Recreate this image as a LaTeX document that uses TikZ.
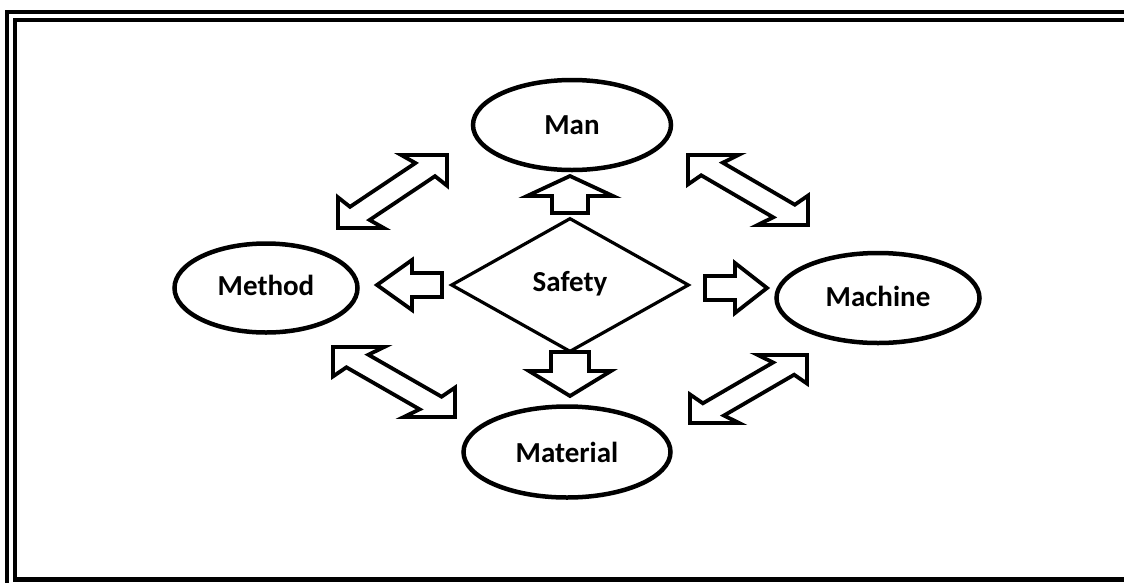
\documentclass[tikz,border=0pt]{standalone}
\usepackage{fontspec}
\setmainfont{Carlito}
\usetikzlibrary{shapes.geometric}
\newcommand\blockarr[7]{% tip x, tip y, angle, head length, total length, head half width, shaft half width
  \draw[blk,shift={(#1,#2)},rotate=#3] (0,0)--(-#4,#6)--(-#4,#7)--(-#5,#7)--(-#5,-#7)--(-#4,-#7)--(-#4,-#6)--cycle;}
\newcommand\dblarrow[4]{% origin corner x, y, xscale, yscale
  \begin{scope}[shift={(#1,#2)},xscale=#3,yscale=#4]
    \draw[blk] (1,1)--(0.58,1)--(0.71,0.89)--(0.11,0.29)--(0,0.42)--(0,0)--(0.42,0)--(0.29,0.11)--(0.89,0.71)--(1,0.58)--cycle;
  \end{scope}}
\begin{document}
\begin{tikzpicture}[x=1pt,y=-1pt,
  lbl/.style={font=\fontsize{29}{32}\selectfont\bfseries},
  oval/.style={ellipse,draw,line width=4.5pt,inner sep=0pt,lbl},
  blk/.style={draw,line width=3.8pt,fill=white,line join=miter},
  frame/.style={line width=4.5pt}]
\useasboundingbox (0,0) rectangle (1124,582);
\begin{scope}
  \clip (0,0) rectangle (1124,582);
  \draw[frame] (7,12) rectangle (1140,600);
  \draw[frame] (15,20) rectangle (1132,579.5);
\end{scope}
\node[oval,minimum width=198pt,minimum height=90pt] (man) at (572,125) {\raisebox{-5pt}{Man}};
\node[oval,minimum width=183pt,minimum height=89pt] (method) at (266,288) {\raisebox{5pt}{Method}};
\node[oval,minimum width=203pt,minimum height=90pt] (machine) at (878,298) {\raisebox{4pt}{Machine}};
\node[oval,minimum width=207pt,minimum height=91pt] (material) at (567,452) {Material};
\node[diamond,draw,line width=3.2pt,minimum width=238pt,minimum height=134pt,aspect=1.78,inner sep=0pt,lbl] (safety) at (570,285) {\raisebox{7pt}{Safety}};
% straight block arrows from Safety
\blockarr{570}{176}{90}{20}{37}{43}{18}
\blockarr{377}{285}{180}{35}{65}{25}{12}
\blockarr{767}{288}{0}{32}{62}{25}{12}
\blockarr{570}{396}{270}{25}{44}{41}{19}
% double arrows between outer ellipses
\dblarrow{338}{228}{109}{-73}
\dblarrow{688}{155}{120}{70}
\dblarrow{333}{347}{122}{70}
\dblarrow{690}{423}{117}{-68}
\end{tikzpicture}
\end{document}
